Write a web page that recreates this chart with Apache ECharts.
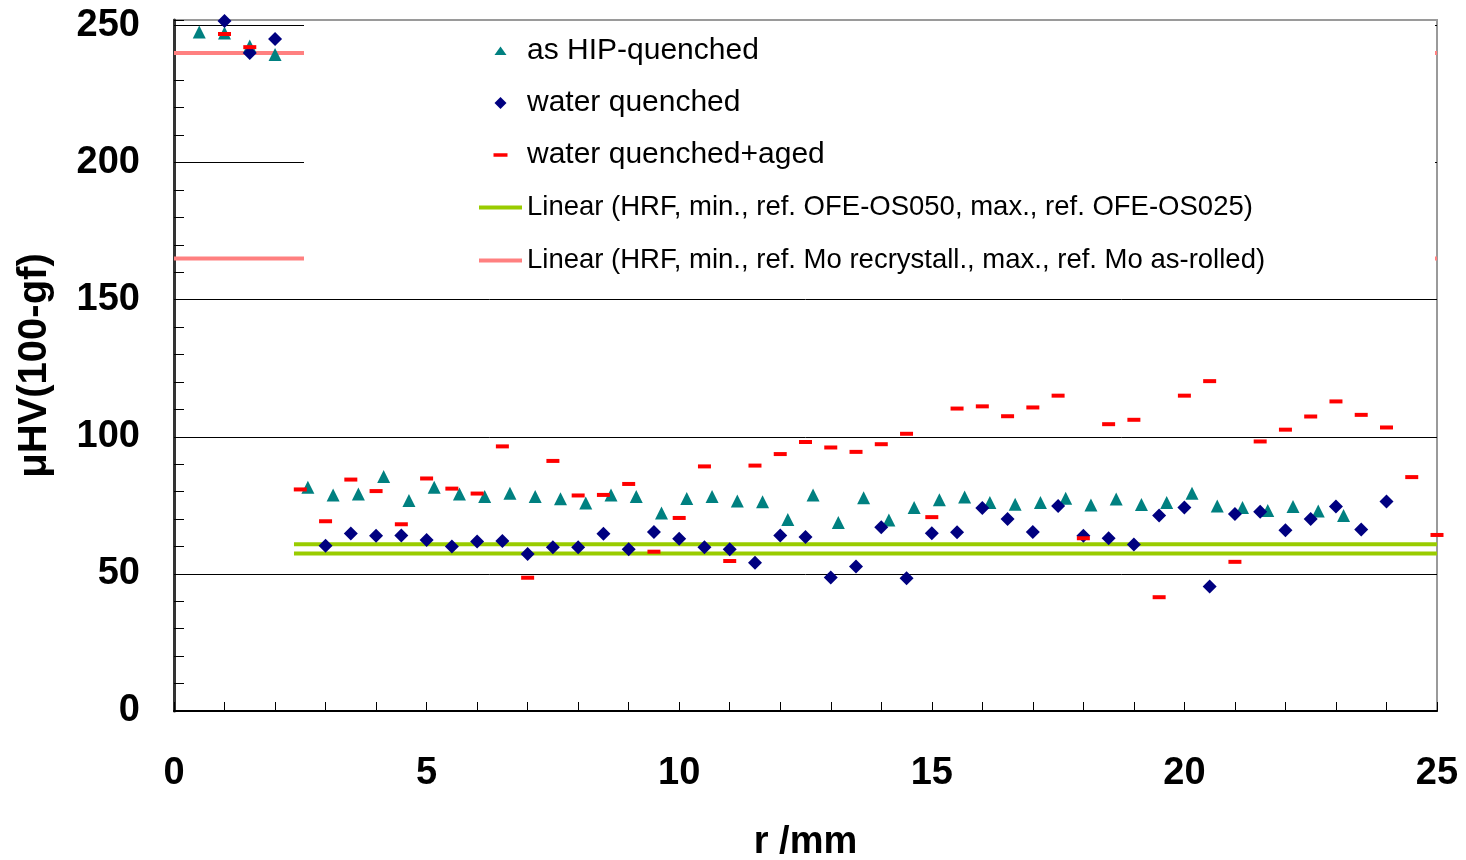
<!DOCTYPE html>
<html>
<head>
<meta charset="utf-8">
<script src="https://cdn.jsdelivr.net/npm/echarts@6/dist/echarts.min.js"></script>
<style>html,body{margin:0;padding:0;background:#fff}#c{width:1466px;height:860px}</style>
</head>
<body>
<div id="c"></div>
<script>
// ---- data ----
const hipX = [0.5, 1.0, 1.5, 2.0,
  2.65, 3.15, 3.65, 4.15, 4.65, 5.15, 5.65, 6.15, 6.65, 7.15, 7.65, 8.15, 8.65, 9.15, 9.65, 10.15,
  10.65, 11.15, 11.65, 12.15, 12.65, 13.15, 13.65, 14.15, 14.65, 15.15, 15.65, 16.15, 16.65, 17.15,
  17.65, 18.15, 18.65, 19.15, 19.65, 20.15, 20.65, 21.15, 21.65, 22.15, 22.65, 23.15];
const hipY = [247.6, 247.3, 242.5, 239.4,
  81.6, 78.8, 79.1, 85.5, 76.8, 81.6, 79.1, 78.2, 79.4, 78.2, 77.4, 75.9, 78.8, 78.2, 72.2, 77.5,
  78.2, 76.6, 76.3, 69.8, 78.8, 68.7, 77.8, 69.7, 74.2, 77.0, 78.0, 76.0, 75.4, 76.0,
  77.6, 75.1, 77.3, 75.3, 76.0, 79.4, 74.8, 74.2, 73.1, 74.6, 72.9, 71.3];

const wqX = [1.0, 1.5, 2.0,
  3.0, 3.5, 4.0, 4.5, 5.0, 5.5, 6.0, 6.5, 7.0, 7.5, 8.0, 8.5, 9.0, 9.5, 10.0, 10.5, 11.0, 11.5,
  12.0, 12.5, 13.0, 13.5, 14.0, 14.5, 15.0, 15.5, 16.0, 16.5, 17.0, 17.5, 18.0, 18.5, 19.0, 19.5,
  20.0, 20.5, 21.0, 21.5, 22.0, 22.5, 23.0, 23.5, 24.0];
const wqY = [251.6, 240.0, 245.1,
  60.3, 64.7, 63.9, 64.0, 62.4, 60.0, 61.8, 62.0, 57.3, 59.7, 59.7, 64.6, 59.0, 65.3, 62.8, 59.7, 59.0, 54.1,
  64.0, 63.5, 48.7, 52.7, 67.0, 48.4, 64.8, 65.2, 74.0, 70.0, 65.3, 74.8, 63.9, 63.0, 60.7, 71.3,
  74.2, 45.4, 71.8, 72.7, 65.9, 70.0, 74.6, 66.2, 76.4];

const wqaX = [1.0, 1.5,
  2.5, 3.0, 3.5, 4.0, 4.5, 5.0, 5.5, 6.0, 6.5, 7.0, 7.5, 8.0, 8.5, 9.0, 9.5, 10.0, 10.5, 11.0, 11.5,
  12.0, 12.5, 13.0, 13.5, 14.0, 14.5, 15.0, 15.5, 16.0, 16.5, 17.0, 17.5, 18.0, 18.5, 19.0, 19.5,
  20.0, 20.5, 21.0, 21.5, 22.0, 22.5, 23.0, 23.5, 24.0, 24.5, 25.0];
const wqaY = [246.9, 242.1,
  80.8, 69.2, 84.4, 80.2, 68.1, 84.8, 81.1, 79.3, 96.5, 48.6, 91.2, 78.6, 78.8, 82.8, 58.1, 70.4, 89.2, 54.7, 89.5,
  93.7, 98.1, 96.1, 94.5, 97.3, 101.1, 70.7, 110.3, 111.1, 107.5, 110.7, 115.0, 63.0, 104.6, 106.2, 41.5,
  115.0, 120.3, 54.4, 98.3, 102.6, 107.4, 112.9, 108.0, 103.4, 85.3, 64.2];

const greenX = [2.375, 25];
const greenMaxY = [60.8, 60.8];
const greenMinY = [57.4, 57.4];
const pinkX = [0, 25];
const pinkMaxY = [240, 240];
const pinkMinY = [165, 165];

const xTicks = [0, 5, 10, 15, 20, 25];
const yTicks = [0, 50, 100, 150, 200, 250];

const names = [
  'as HIP-quenched',
  'water quenched',
  'water quenched+aged',
  'Linear (HRF, min., ref. OFE-OS050, max., ref. OFE-OS025)',
  'Linear (HRF, min., ref. Mo recrystall., max., ref. Mo as-rolled)'
];

const zip = (xs, ys) => xs.map((x, i) => [x, ys[i]]);
const FONT = "'Liberation Sans', Arial, sans-serif";

const chart = echarts.init(document.getElementById('c'), null, {renderer: 'canvas'});
chart.setOption({
  animation: false,
  backgroundColor: '#ffffff',
  grid: {left: 174, right: 29, top: 20, bottom: 149, show: true, borderColor: '#9a9a9a', borderWidth: 2,
    backgroundColor: 'transparent', outerBoundsMode: 'none', containLabel: false},
  graphic: [{
    type: 'rect', z: 3, silent: true,
    shape: {x: 304, y: 22, width: 1131, height: 266},
    style: {fill: '#ffffff'}
  }],
  legend: {
    orient: 'vertical', left: 479, top: 36, padding: 0, itemGap: 22,
    itemWidth: 43, itemHeight: 14, selectedMode: false, z: 4, symbolKeepAspect: true,
    textStyle: {fontFamily: FONT, fontSize: 30, color: '#000', lineHeight: 30},
    data: [
      {name: names[0], icon: 'path://M0,0L0,0M1,11L7,2.5L13,11ZM14,14L14,14'},
      {name: names[1], icon: 'path://M0,0L0,0M7,1L13,7L7,13L1,7ZM14,14L14,14'},
      {name: names[2], icon: 'path://M0,-4.5L0,-4.5M0,0L12,0L12,3L0,3ZM12,7.5L12,7.5'},
      {name: names[3], icon: 'path://M0,0L43,0L43,4L0,4Z', textStyle: {fontSize: 27.5, lineHeight: 31}},
      {name: names[4], icon: 'path://M0,0L43,0L43,4L0,4Z', textStyle: {fontSize: 27.5, lineHeight: 31}}
    ]
  },
  xAxis: {
    type: 'value', min: 0, max: 25, interval: 5,
    name: 'r /mm', nameLocation: 'middle', nameGap: 113,
    nameTextStyle: {fontFamily: FONT, fontSize: 38, fontWeight: 'bold', color: '#000'},
    axisLine: {show: true, onZero: false, lineStyle: {color: '#000', width: 2}},
    axisTick: {show: true, inside: true, length: 9, lineStyle: {color: '#000', width: 1}},
    minorTick: {show: true, splitNumber: 5, length: 9, lineStyle: {color: '#000', width: 1}},
    splitLine: {show: false},
    minorSplitLine: {show: false},
    axisLabel: {fontFamily: FONT, fontSize: 38, fontWeight: 'bold', color: '#000', margin: 43, lineHeight: 40,
      formatter: v => xTicks.includes(v) ? String(v) : ''}
  },
  yAxis: [{
    type: 'value', min: 0, max: 252, interval: 10, position: 'left',
    name: 'μHV(100-gf)', nameLocation: 'middle', nameGap: 119, nameRotate: 90,
    nameTextStyle: {fontFamily: FONT, fontSize: 40, fontWeight: 'bold', color: '#000'},
    axisLine: {show: true, onZero: false, lineStyle: {color: '#333', width: 3}},
    axisTick: {show: true, inside: true, length: 10, lineStyle: {color: '#000', width: 1}},
    splitLine: {show: false},
    axisLabel: {fontFamily: FONT, fontSize: 38, fontWeight: 'bold', color: '#000', margin: 34,
      padding: [6, 0, 0, 0],
      formatter: v => yTicks.includes(v) ? String(v) : ''}
  }, {
    type: 'value', min: 0, max: 252, interval: 50, position: 'right',
    axisLine: {show: false}, axisTick: {show: false}, axisLabel: {show: false},
    splitLine: {show: true, showMinLine: false, showMaxLine: false, lineStyle: {color: '#000', width: 1}}
  }],
  series: [
    {name: names[0], type: 'scatter', yAxisIndex: 0, symbol: 'triangle', symbolSize: 13, clip: false,
      itemStyle: {color: '#008080', opacity: 1}, data: zip(hipX, hipY), z: 2},
    {name: names[1], type: 'scatter', yAxisIndex: 0, symbol: 'diamond', symbolSize: 14, clip: false,
      itemStyle: {color: '#000080', opacity: 1}, data: zip(wqX, wqY), z: 2},
    {name: names[2], type: 'scatter', yAxisIndex: 0, symbol: 'rect', symbolSize: [13, 4], clip: false,
      itemStyle: {color: '#ff0000', opacity: 1}, data: zip(wqaX, wqaY), z: 2},
    {name: names[3], type: 'line', yAxisIndex: 0, symbol: 'none', showSymbol: false, color: '#99cc00',
      itemStyle: {color: '#99cc00'}, lineStyle: {color: '#99cc00', width: 4}, data: zip(greenX, greenMaxY), z: 2},
    {name: names[3], type: 'line', yAxisIndex: 0, symbol: 'none', showSymbol: false, color: '#99cc00',
      itemStyle: {color: '#99cc00'}, lineStyle: {color: '#99cc00', width: 4}, data: zip(greenX, greenMinY), z: 2},
    {name: names[4], type: 'line', yAxisIndex: 0, symbol: 'none', showSymbol: false, color: '#ff8080',
      itemStyle: {color: '#ff8080'}, lineStyle: {color: '#ff8080', width: 4}, data: zip(pinkX, pinkMaxY), z: 2},
    {name: names[4], type: 'line', yAxisIndex: 0, symbol: 'none', showSymbol: false, color: '#ff8080',
      itemStyle: {color: '#ff8080'}, lineStyle: {color: '#ff8080', width: 4}, data: zip(pinkX, pinkMinY), z: 2}
  ]
});
</script>
</body>
</html>
